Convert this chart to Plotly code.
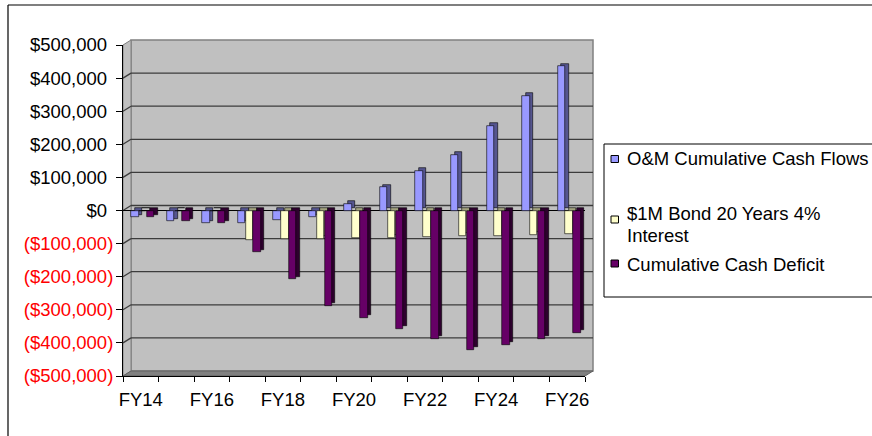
import plotly.graph_objects as go

# ---- data -------------------------------------------------------------
years = ["FY14", "FY15", "FY16", "FY17", "FY18", "FY19", "FY20",
         "FY21", "FY22", "FY23", "FY24", "FY25", "FY26"]
om_cash_flows = [-20000, -32000, -38000, -38000, -30000, -20000, 20000,
                 70000, 120000, 168000, 256000, 346000, 436000]
bond_payments = [0, 0, 0, -88000, -86000, -86000, -83000,
                 -83000, -79000, -76000, -76000, -73000, -70000]
cash_deficit = [-20000, -32000, -38000, -126000, -208000, -287000, -324000,
                -357000, -388000, -420000, -405000, -388000, -370000]
y_tick_values = [-500000, -400000, -300000, -200000, -100000, 0,
                 100000, 200000, 300000, 400000, 500000]
x_tick_labels = ["FY14", "FY16", "FY18", "FY20", "FY22", "FY24", "FY26"]
series_names = ["O&M Cumulative Cash Flows",
                "$1M Bond 20 Years 4%<br>Interest",
                "Cumulative Cash Deficit"]

# ---- geometry / style -------------------------------------------------
FIG_W, FIG_H = 872, 436
PLOT_L, PLOT_R, PLOT_T, PLOT_B = 123, 585, 45, 376
DEPTH_PX_X, DEPTH_PX_Y = 8, 5          # wall depth of the pseudo-3D box
FONT = "Liberation Sans, Arial, sans-serif"
FS = 18.5

def px(x):
    return (x - PLOT_L) / (PLOT_R - PLOT_L)

def py(y):
    return (PLOT_B - y) / (PLOT_B - PLOT_T)

positions = list(range(len(years)))
bar_w = 0.21
offsets = [-0.27, -0.05, 0.17]
bar_dx = 3.5 / ((PLOT_R - PLOT_L) / len(years))          # side face shift (x units)
bar_dy = 2.5 / (PLOT_B - PLOT_T) * 1_000_000              # top face shift (y units)
front_colors = ["#9999FF", "#FFFFCC", "#660066"]
side_colors = ["#55558F", "#A3A37F", "#2E002E"]
series_values = [om_cash_flows, bond_payments, cash_deficit]

fig = go.Figure()
for vals, off, fc, sc, name in zip(series_values, offsets, front_colors,
                                   side_colors, series_names):
    # extruded face (drawn behind, shifted right/up)
    fig.add_trace(go.Bar(
        x=positions, y=vals, base=bar_dy, offset=off + bar_dx, width=bar_w,
        marker=dict(color=sc, line=dict(color="#000000", width=0.6)),
        showlegend=False, hoverinfo="skip"))
    # front face
    fig.add_trace(go.Bar(
        x=positions, y=vals, offset=off, width=bar_w, name=name,
        marker=dict(color=fc, line=dict(color="#000000", width=0.6)),
        showlegend=False))

def money(v):
    s = f"${abs(v):,}"
    if v < 0:
        return f"<span style='color:#FF0000'>({s})</span>"
    return s + "<span style='color:#FFFFFF'>)</span>"

shapes = []
# chart area frame
shapes.append(dict(type="line", xref="paper", yref="paper",
                   x0=px(8), x1=px(8), y0=py(FIG_H), y1=py(5),
                   line=dict(color="#000000", width=1.2), layer="below"))
shapes.append(dict(type="line", xref="paper", yref="paper",
                   x0=px(8), x1=px(FIG_W), y0=py(5), y1=py(5),
                   line=dict(color="#000000", width=1.2), layer="below"))
# back wall
bx0, bx1 = PLOT_L + DEPTH_PX_X, PLOT_R + DEPTH_PX_X
by0, by1 = PLOT_T - DEPTH_PX_Y, PLOT_B - DEPTH_PX_Y
shapes.append(dict(type="rect", xref="paper", yref="paper",
                   x0=px(bx0), x1=px(bx1), y0=py(by1), y1=py(by0),
                   fillcolor="#C0C0C0", line=dict(color="#808080", width=1.5),
                   layer="below"))
# side wall
shapes.append(dict(type="path", xref="paper", yref="paper",
                   path=(f"M {px(PLOT_L)},{py(PLOT_T)} L {px(bx0)},{py(by0)} "
                         f"L {px(bx0)},{py(by1)} L {px(PLOT_L)},{py(PLOT_B)} Z"),
                   fillcolor="#C0C0C0", line=dict(color="#808080", width=1),
                   layer="below"))
# floor
shapes.append(dict(type="path", xref="paper", yref="paper",
                   path=(f"M {px(PLOT_L)},{py(PLOT_B)} L {px(PLOT_R)},{py(PLOT_B)} "
                         f"L {px(bx1)},{py(by1)} L {px(bx0)},{py(by1)} Z"),
                   fillcolor="#808080", line=dict(color="#606060", width=1),
                   layer="below"))
# gridlines on back and side walls
for v in y_tick_values[1:-1]:
    shapes.append(dict(type="line", xref="paper", yref="y", ysizemode="pixel",
                       yanchor=v, x0=px(bx0), x1=px(bx1),
                       y0=DEPTH_PX_Y, y1=DEPTH_PX_Y,
                       line=dict(color="#3C3C3C", width=1.3), layer="below"))
    shapes.append(dict(type="line", xref="paper", yref="y", ysizemode="pixel",
                       yanchor=v, x0=px(PLOT_L), x1=px(bx0),
                       y0=0, y1=DEPTH_PX_Y,
                       line=dict(color="#3C3C3C", width=1.3), layer="below"))

# legend box (open on the right, runs off the edge) and swatches
LEG_L, LEG_T, LEG_B, LEG_R = 604, 144, 297, FIG_W
for (xa, ya, xb, yb) in [(LEG_L, LEG_T, LEG_R, LEG_T),
                         (LEG_L, LEG_T, LEG_L, LEG_B),
                         (LEG_L, LEG_B, LEG_R, LEG_B)]:
    shapes.append(dict(type="line", xref="paper", yref="paper",
                       x0=px(xa), x1=px(xb), y0=py(ya), y1=py(yb),
                       line=dict(color="#000000", width=1), layer="below"))
swatch_centers = [159, 219.5, 263.5]
for c, fc in zip(swatch_centers, front_colors):
    shapes.append(dict(type="rect", xref="paper", yref="paper",
                       x0=px(611), x1=px(618.5), y0=py(c + 3.5), y1=py(c - 3.5),
                       fillcolor=fc, line=dict(color="#000000", width=1),
                       layer="above"))

legend_lines = [("O&M Cumulative Cash Flows", 158.5),
                ("$1M Bond 20 Years 4%", 213),
                ("Interest", 235),
                ("Cumulative Cash Deficit", 264)]
annotations = [dict(text=t, x=px(627), y=py(c), xref="paper", yref="paper",
                    xanchor="left", yanchor="middle", showarrow=False,
                    borderwidth=0, borderpad=0,
                    font=dict(family=FONT, size=FS, color="#000000"))
               for t, c in legend_lines]

fig.update_layout(
    width=FIG_W, height=FIG_H,
    margin=dict(l=PLOT_L, r=FIG_W - PLOT_R, t=PLOT_T, b=FIG_H - PLOT_B,
                pad=0, autoexpand=False),
    paper_bgcolor="#FFFFFF", plot_bgcolor="rgba(0,0,0,0)",
    barmode="overlay", bargap=0,
    showlegend=False,
    font=dict(family=FONT, size=FS, color="#000000"),
    shapes=shapes, annotations=annotations,
    xaxis=dict(type="linear", range=[-0.5, len(years) - 0.5],
               tickmode="array", tickvals=positions[::2], ticktext=x_tick_labels,
               ticks="", ticklabelstandoff=7,
               showgrid=False, zeroline=False,
               showline=True, linecolor="#000000", linewidth=1,
               tickfont=dict(family=FONT, size=FS, color="#000000"),
               minor=dict(tickmode="array",
                          tickvals=[p - 0.5 for p in positions] + [len(years) - 0.5],
                          ticks="outside", ticklen=5, tickcolor="#000000",
                          tickwidth=1, showgrid=False)),
    yaxis=dict(range=[y_tick_values[0], y_tick_values[-1]],
               tickmode="array", tickvals=y_tick_values,
               ticktext=[money(v) for v in y_tick_values],
               ticks="outside", ticklen=6, tickcolor="#000000", tickwidth=1,
               ticklabelstandoff=-1,
               showgrid=False, zeroline=True, zerolinecolor="#000000",
               zerolinewidth=1, showline=True, linecolor="#000000", linewidth=1,
               tickfont=dict(family=FONT, size=FS, color="#000000")),
)

fig.write_html("out.html")
